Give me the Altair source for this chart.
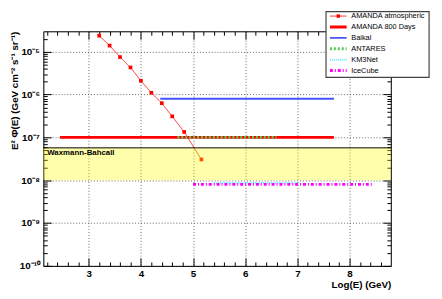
import altair as alt
import pandas as pd

# ---------------- data ----------------
atm_logE = [3.2, 3.4, 3.6, 3.8, 4.0, 4.2, 4.4, 4.6, 4.83, 5.16]
atm_flux = [2.37e-5, 1.39e-5, 7.5e-6, 4.3e-6, 2.1e-6, 1.1e-6, 6.3e-7, 3.1e-7, 1.34e-7, 3.05e-8]

series_names = ["AMANDA atmospheric", "AMANDA 800 Days", "Baikal", "ANTARES", "KM3Net", "IceCube"]
series_colors = ["#ff2a2a", "#ff0000", "#4455ff", "#55cc55", "#66eeff", "#ff00ff"]
series_widths = [1, 3, 2, 3, 2, 3]
series_dashes = [[1, 0], [1, 0], [1, 0], [2, 2], [1, 1], [3, 2, 1, 2]]

limit_names = ["AMANDA 800 Days", "Baikal", "ANTARES", "KM3Net", "IceCube"]
limit_start = [2.45, 4.37, 4.7, 5.4, 5.0]
limit_end = [7.7, 7.7, 6.6, 7.0, 8.46]
limit_flux = [1.0e-7, 8.0e-7, 1.0e-7, 8.6e-9, 8.0e-9]

wb_low = [1.0e-8]
wb_high = [5.7e-8]
wb_label = ["Waxmann-Bahcall"]

x_domain = [2.13, 8.79]
y_domain = [1e-10, 3e-5]
x_major = [3, 4, 5, 6, 7, 8]
x_minor = [round(2.2 + 0.2 * i, 1) for i in range(33) if abs((2.2 + 0.2 * i) - round(2.2 + 0.2 * i)) > 1e-6]
y_major = [1e-10, 1e-9, 1e-8, 1e-7, 1e-6, 1e-5]
y_minor = [k * 10.0 ** e for e in range(-10, -4) for k in range(2, 10) if k * 10.0 ** e <= 3e-5]

FONT = "Liberation Sans"
W, H = 354, 239

atm_df = pd.DataFrame({"x": atm_logE, "y": atm_flux, "series": series_names[0]})
lim_df = pd.DataFrame({"series": limit_names, "start": limit_start, "end": limit_end, "flux": limit_flux})
wb_df = pd.DataFrame({"lo": wb_low, "hi": wb_high, "label": wb_label})
leg_df = pd.DataFrame({"series": series_names})

color_scale = alt.Scale(domain=series_names, range=series_colors)
dash_scale = alt.Scale(domain=series_names, range=series_dashes)
width_scale = alt.Scale(type="ordinal", domain=series_names, range=series_widths)


def X(field, axis=None):
    return alt.X(field, type="quantitative", scale=alt.Scale(domain=x_domain, nice=False, zero=False), axis=axis)


def Y(field, axis=None):
    return alt.Y(field, type="quantitative", scale=alt.Scale(type="log", domain=y_domain, nice=False), axis=axis)


def tick_axis(orient, values, size):
    return alt.Axis(orient=orient, values=values, tickSize=size, offset=-size, labels=False,
                    domain=False, grid=False, ticks=True, tickColor="black", tickWidth=1,
                    title="", zindex=0)


def domain_axis(orient):
    return alt.Axis(orient=orient, domain=True, domainColor="black", domainWidth=1, ticks=False,
                    labels=False, grid=False, title="", zindex=0)


# superscript label expression for decades
sup = [("-", "⁻"), ("1", "¹"), ("0", "⁰"), ("5", "⁵"), ("6", "⁶"), ("7", "⁷"), ("8", "⁸"), ("9", "⁹")]
expr = "('' + round(log(datum.value) / LN10))"
for a, b in sup:
    expr = f"replace({expr}, '{a}', '{b}')"
label_expr = "'10' + " + expr

x_main = alt.Axis(orient="bottom", values=x_major, domain=True, domainColor="black", domainWidth=1,
                  ticks=False, grid=True, gridColor="#666666", gridDash=[1, 2], gridWidth=1,
                  labelFont=FONT, labelFontSize=10, labelFontWeight="bold", labelColor="black",
                  labelPadding=3, labelFlush=False,
                  title="Log(E) (GeV)", titleFont=FONT, titleFontSize=10, titleFontWeight="bold",
                  titleColor="black", titleAlign="right", titleAnchor="end", titleX=W, titleY=22,
                  titleBaseline="alphabetic", zindex=0)
y_main = alt.Axis(orient="left", values=y_major, domain=True, domainColor="black", domainWidth=1,
                  ticks=False, grid=True, gridColor="#666666", gridDash=[1, 2], gridWidth=1,
                  labelExpr=label_expr, labelFont=FONT, labelFontSize=10, labelFontWeight="bold",
                  labelColor="black", labelPadding=4, labelFlush=False,
                  title="E² Φ(E) (GeV cm⁻² s⁻¹ sr⁻¹)", titleFont=FONT, titleFontSize=10,
                  titleFontWeight="bold", titleColor="black", titleAngle=270, titleX=-29, titleY=0,
                  titleAlign="right", titleBaseline="middle", zindex=0)

axis_pairs = [
    (x_main, y_main),
    (tick_axis("bottom", x_major, 8), tick_axis("left", y_major, 8)),
    (tick_axis("bottom", x_minor, 4), tick_axis("left", y_minor, 4)),
    (tick_axis("top", x_major, 8), tick_axis("right", y_major, 8)),
    (tick_axis("top", x_minor, 4), tick_axis("right", y_minor, 4)),
    (domain_axis("top"), domain_axis("right")),
]

layers = []
for ax_x, ax_y in axis_pairs:
    layers.append(
        alt.Chart(atm_df).mark_point(opacity=0, size=1).encode(x=X("x", ax_x), y=Y("y", ax_y))
    )

series_enc = dict(
    color=alt.Color("series:N", scale=color_scale, legend=None),
    strokeDash=alt.StrokeDash("series:N", scale=dash_scale, legend=None),
    strokeWidth=alt.StrokeWidth("series:N", scale=width_scale, legend=None),
)

limits = alt.Chart(lim_df).mark_rule().encode(x=X("start"), x2="end", y=Y("flux"), **series_enc)
atm_line = alt.Chart(atm_df).mark_line().encode(x=X("x"), y=Y("y"), **series_enc)
atm_pts = alt.Chart(atm_df).mark_square(size=14, color="#ff0000", opacity=1).encode(x=X("x"), y=Y("y"))

wb_band = alt.Chart(wb_df).mark_rect(color="#ffff00", opacity=0.33).encode(
    x=alt.value(0), x2=alt.value(W), y=Y("lo"), y2="hi")
wb_line = alt.Chart(wb_df).mark_rule(color="black", strokeWidth=1).encode(
    x=alt.value(0), x2=alt.value(W), y=Y("hi"))
wb_text = alt.Chart(wb_df).mark_text(align="left", baseline="middle", font=FONT, fontSize=8,
                                      fontWeight="bold", color="black", dy=5).encode(
    x=alt.value(4), y=Y("hi"), text="label:N")

leg_y = alt.Y("series:N", scale=alt.Scale(type="point", domain=series_names, range=[-15.5, 40], padding=0),
              axis=None)
leg_box = alt.Chart(wb_df).mark_rect(fill="white", stroke="#444444", strokeWidth=1.2).encode(
    x=alt.value(288), x2=alt.value(393), y=alt.value(-20), y2=alt.value(47))
leg_sym = alt.Chart(leg_df).mark_rule().encode(x=alt.value(292), x2=alt.value(309), y=leg_y, **series_enc)
leg_mark = alt.Chart(leg_df).transform_filter(alt.datum.series == series_names[0]).mark_square(
    size=12, color="#ff0000", opacity=1).encode(x=alt.value(300.5), y=leg_y)
leg_text = alt.Chart(leg_df).mark_text(align="left", baseline="middle", font=FONT, fontSize=7.5,
                                       color="black").encode(x=alt.value(313.7), y=leg_y, text="series:N")

layers += [limits, atm_line, atm_pts, wb_band, wb_line, wb_text, leg_box, leg_sym, leg_mark, leg_text]

chart = alt.layer(*layers).resolve_scale(
    x="independent", y="independent"
).properties(
    width=W, height=H,
    autosize=alt.AutoSizeParams(type="none"),
    padding={"left": 36, "top": 21, "right": 44, "bottom": 31},
).configure_view(stroke="transparent").configure(background="white")

chart.save("out.html", embed_options={"renderer": "svg", "actions": False})
